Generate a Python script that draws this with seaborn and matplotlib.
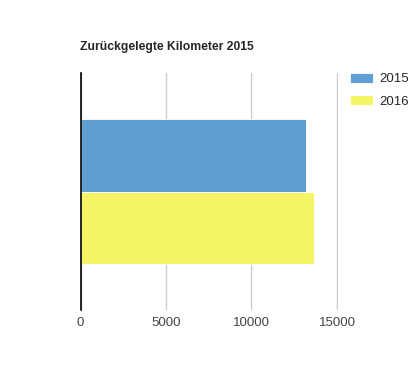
import matplotlib

matplotlib.use('Agg')
import matplotlib.pyplot as plt
import seaborn as sns
import pandas as pd

# Daten
categories = ["Kilometer"]
years = ["2015", "2016"]
km_values = [13200, 13650]
colors = ["#609fd4", "#f4f466"]
x_ticks = [0, 5000, 10000, 15000]

df = pd.DataFrame({
    "kategorie": categories * len(years),
    "jahr": years,
    "km": km_values,
})

sns.set_style("white")
plt.rcParams['font.family'] = ['Liberation Sans', 'DejaVu Sans']

W, H = 418, 384
x_max = 15060
fig = plt.figure(figsize=(W / 100, H / 100), dpi=100)
ax = fig.add_axes([80.5 / W, (H - 310) / H, (338 - 80.5) / W, (310 - 73) / H])

sns.barplot(data=df, y="kategorie", x="km", hue="jahr", orient="h",
            palette=colors, width=0.61, gap=0.0, saturation=1,
            edgecolor="white", linewidth=0.6, ax=ax, zorder=2)

ax.set_xlim(0, x_max)
ax.set_xticks(x_ticks)
ax.set_xticklabels([str(t) for t in x_ticks], fontsize=9.5, color="#444444")
ax.tick_params(axis="x", length=0, pad=5)
ax.set_yticks([])
ax.set_xlabel("")
ax.set_ylabel("")
ax.grid(axis="x", color="#cccccc", linewidth=1, zorder=0)
ax.set_axisbelow(True)
for side in ["top", "right", "bottom"]:
    ax.spines[side].set_visible(False)
ax.spines["left"].set_color("black")
ax.spines["left"].set_linewidth(1.2)

fig.text(80 / W, 1 - 47 / H, "Zurückgelegte Kilometer 2015", fontsize=8.7,
         fontweight="bold", va="center", ha="left")

handles, labels = ax.get_legend_handles_labels()
ax.legend(handles, labels, loc="upper left", bbox_to_anchor=(350 / W, 1 - 73 / H),
          bbox_transform=fig.transFigure, frameon=False, fontsize=9.5,
          borderpad=0, borderaxespad=0,
          handlelength=1.75, handleheight=0.75, handletextpad=0.45, labelspacing=0.75)

plt.savefig("out.png", dpi=100)
plt.close()
